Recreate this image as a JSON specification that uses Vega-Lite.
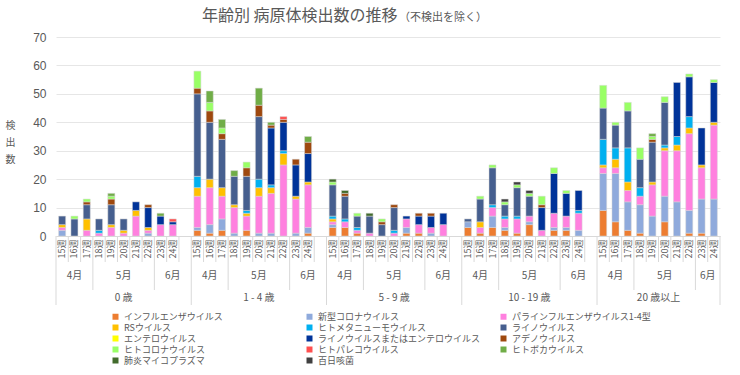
{
  "$schema": "https://vega.github.io/schema/vega-lite/v6.json",
  "background": "white",
  "padding": {"left": 5, "top": 8, "right": 5, "bottom": 5},
  "title": {"text": "年齢別 病原体検出数の推移", "anchor": "start", "frame": "group", "dx": 146, "dy": 12, "offset": 0, "fontSize": 16, "fontWeight": "normal", "color": "#595959", "font": "Noto Sans CJK JP"},
  "datasets": {
    "counts": [
      {"age": "0 歳", "week": "15週", "新型コロナウイルス": 2, "パラインフルエンザウイルス1-4型": 1, "RSウイルス": 1, "ライノウイルス": 3},
      {"age": "0 歳", "week": "16週", "ライノウイルス": 6, "ヒトコロナウイルス": 1},
      {"age": "0 歳", "week": "17週", "パラインフルエンザウイルス1-4型": 2, "RSウイルス": 4, "ライノウイルス": 5, "アデノウイルス": 1, "ヒトコロナウイルス": 1},
      {"age": "0 歳", "week": "18週", "パラインフルエンザウイルス1-4型": 1, "ヒトメタニューモウイルス": 1, "ライノウイルス": 4},
      {"age": "0 歳", "week": "19週", "パラインフルエンザウイルス1-4型": 3, "RSウイルス": 1, "ライノウイルス": 7, "アデノウイルス": 2, "ヒトコロナウイルス": 1, "ヒトボカウイルス": 1},
      {"age": "0 歳", "week": "20週", "パラインフルエンザウイルス1-4型": 1, "RSウイルス": 1, "ライノウイルス": 4},
      {"age": "0 歳", "week": "21週", "パラインフルエンザウイルス1-4型": 7, "RSウイルス": 2, "ライノウイルスまたはエンテロウイルス": 3},
      {"age": "0 歳", "week": "22週", "新型コロナウイルス": 1, "パラインフルエンザウイルス1-4型": 1, "RSウイルス": 1, "ライノウイルスまたはエンテロウイルス": 7, "アデノウイルス": 1},
      {"age": "0 歳", "week": "23週", "パラインフルエンザウイルス1-4型": 4, "ライノウイルスまたはエンテロウイルス": 3, "ヒトボカウイルス": 1},
      {"age": "0 歳", "week": "24週", "パラインフルエンザウイルス1-4型": 4, "ライノウイルスまたはエンテロウイルス": 1, "ヒトパレコウイルス": 1},
      {"age": "1 - 4 歳", "week": "15週", "インフルエンザウイルス": 2, "新型コロナウイルス": 1, "パラインフルエンザウイルス1-4型": 11, "RSウイルス": 3, "ヒトメタニューモウイルス": 4, "ライノウイルス": 29, "アデノウイルス": 2, "ヒトコロナウイルス": 6},
      {"age": "1 - 4 歳", "week": "16週", "インフルエンザウイルス": 1, "新型コロナウイルス": 3, "パラインフルエンザウイルス1-4型": 13, "RSウイルス": 3, "ライノウイルス": 20, "アデノウイルス": 4, "ヒトコロナウイルス": 3, "ヒトボカウイルス": 4},
      {"age": "1 - 4 歳", "week": "17週", "インフルエンザウイルス": 2, "新型コロナウイルス": 4, "パラインフルエンザウイルス1-4型": 8, "RSウイルス": 3, "ライノウイルス": 17, "アデノウイルス": 2, "ヒトコロナウイルス": 2, "ヒトボカウイルス": 3},
      {"age": "1 - 4 歳", "week": "18週", "新型コロナウイルス": 1, "パラインフルエンザウイルス1-4型": 9, "RSウイルス": 1, "ライノウイルス": 10, "ヒトボカウイルス": 2},
      {"age": "1 - 4 歳", "week": "19週", "インフルエンザウイルス": 2, "パラインフルエンザウイルス1-4型": 5, "RSウイルス": 1, "ヒトメタニューモウイルス": 1, "ライノウイルス": 12, "アデノウイルス": 3, "ヒトコロナウイルス": 2},
      {"age": "1 - 4 歳", "week": "20週", "新型コロナウイルス": 1, "パラインフルエンザウイルス1-4型": 13, "RSウイルス": 3, "ヒトメタニューモウイルス": 3, "ライノウイルス": 22, "アデノウイルス": 4, "ヒトボカウイルス": 6},
      {"age": "1 - 4 歳", "week": "21週", "新型コロナウイルス": 1, "パラインフルエンザウイルス1-4型": 14, "RSウイルス": 2, "ヒトメタニューモウイルス": 1, "ライノウイルスまたはエンテロウイルス": 20, "アデノウイルス": 1, "ヒトボカウイルス": 1},
      {"age": "1 - 4 歳", "week": "22週", "パラインフルエンザウイルス1-4型": 25, "RSウイルス": 4, "ヒトメタニューモウイルス": 1, "ライノウイルスまたはエンテロウイルス": 10, "アデノウイルス": 1, "ヒトパレコウイルス": 1},
      {"age": "1 - 4 歳", "week": "23週", "新型コロナウイルス": 1, "パラインフルエンザウイルス1-4型": 12, "RSウイルス": 1, "ライノウイルスまたはエンテロウイルス": 11, "アデノウイルス": 2},
      {"age": "1 - 4 歳", "week": "24週", "インフルエンザウイルス": 1, "新型コロナウイルス": 2, "パラインフルエンザウイルス1-4型": 15, "RSウイルス": 1, "ライノウイルスまたはエンテロウイルス": 10, "アデノウイルス": 4, "ヒトボカウイルス": 2},
      {"age": "5 - 9 歳", "week": "15週", "インフルエンザウイルス": 3, "新型コロナウイルス": 1, "パラインフルエンザウイルス1-4型": 1, "RSウイルス": 1, "ヒトメタニューモウイルス": 1, "ライノウイルス": 11, "ヒトコロナウイルス": 1, "肺炎マイコプラズマ": 1},
      {"age": "5 - 9 歳", "week": "16週", "インフルエンザウイルス": 3, "パラインフルエンザウイルス1-4型": 2, "ヒトメタニューモウイルス": 1, "ライノウイルス": 8, "アデノウイルス": 1, "肺炎マイコプラズマ": 1},
      {"age": "5 - 9 歳", "week": "17週", "インフルエンザウイルス": 1, "パラインフルエンザウイルス1-4型": 1, "ヒトメタニューモウイルス": 1, "ライノウイルス": 4, "ヒトコロナウイルス": 1},
      {"age": "5 - 9 歳", "week": "18週", "パラインフルエンザウイルス1-4型": 1, "ライノウイルス": 6, "肺炎マイコプラズマ": 1},
      {"age": "5 - 9 歳", "week": "19週", "ライノウイルス": 4, "アデノウイルス": 1, "ヒトコロナウイルス": 1},
      {"age": "5 - 9 歳", "week": "20週", "パラインフルエンザウイルス1-4型": 1, "ヒトメタニューモウイルス": 1, "ライノウイルス": 8, "アデノウイルス": 1},
      {"age": "5 - 9 歳", "week": "21週", "インフルエンザウイルス": 1, "新型コロナウイルス": 2, "パラインフルエンザウイルス1-4型": 3, "ライノウイルスまたはエンテロウイルス": 1},
      {"age": "5 - 9 歳", "week": "22週", "インフルエンザウイルス": 1, "パラインフルエンザウイルス1-4型": 3, "ライノウイルスまたはエンテロウイルス": 3, "アデノウイルス": 1},
      {"age": "5 - 9 歳", "week": "23週", "新型コロナウイルス": 1, "パラインフルエンザウイルス1-4型": 2, "ライノウイルスまたはエンテロウイルス": 4, "アデノウイルス": 1},
      {"age": "5 - 9 歳", "week": "24週", "パラインフルエンザウイルス1-4型": 4, "ライノウイルスまたはエンテロウイルス": 4},
      {"age": "10 - 19 歳", "week": "15週", "インフルエンザウイルス": 3, "新型コロナウイルス": 2, "ライノウイルス": 1},
      {"age": "10 - 19 歳", "week": "16週", "インフルエンザウイルス": 1, "パラインフルエンザウイルス1-4型": 2, "RSウイルス": 2, "ライノウイルス": 8, "ヒトコロナウイルス": 1},
      {"age": "10 - 19 歳", "week": "17週", "インフルエンザウイルス": 3, "新型コロナウイルス": 4, "パラインフルエンザウイルス1-4型": 3, "ヒトメタニューモウイルス": 1, "ライノウイルス": 13, "ヒトコロナウイルス": 1},
      {"age": "10 - 19 歳", "week": "18週", "インフルエンザウイルス": 2, "新型コロナウイルス": 1, "パラインフルエンザウイルス1-4型": 3, "ヒトメタニューモウイルス": 1, "ライノウイルス": 4, "ヒトコロナウイルス": 1, "百日咳菌": 1},
      {"age": "10 - 19 歳", "week": "19週", "インフルエンザウイルス": 1, "パラインフルエンザウイルス1-4型": 5, "ヒトメタニューモウイルス": 1, "ライノウイルス": 10, "ヒトコロナウイルス": 1, "百日咳菌": 1},
      {"age": "10 - 19 歳", "week": "20週", "インフルエンザウイルス": 4, "新型コロナウイルス": 1, "パラインフルエンザウイルス1-4型": 2, "ライノウイルス": 7, "ヒトコロナウイルス": 1, "百日咳菌": 1},
      {"age": "10 - 19 歳", "week": "21週", "パラインフルエンザウイルス1-4型": 2, "ライノウイルスまたはエンテロウイルス": 8, "アデノウイルス": 1, "ヒトコロナウイルス": 3},
      {"age": "10 - 19 歳", "week": "22週", "インフルエンザウイルス": 2, "新型コロナウイルス": 1, "パラインフルエンザウイルス1-4型": 5, "ライノウイルスまたはエンテロウイルス": 14, "ヒトコロナウイルス": 2},
      {"age": "10 - 19 歳", "week": "23週", "インフルエンザウイルス": 2, "新型コロナウイルス": 1, "パラインフルエンザウイルス1-4型": 4, "ライノウイルスまたはエンテロウイルス": 8, "ヒトコロナウイルス": 1},
      {"age": "10 - 19 歳", "week": "24週", "新型コロナウイルス": 2, "パラインフルエンザウイルス1-4型": 6, "ヒトメタニューモウイルス": 1, "ライノウイルスまたはエンテロウイルス": 7},
      {"age": "20 歳以上", "week": "15週", "インフルエンザウイルス": 9, "新型コロナウイルス": 13, "パラインフルエンザウイルス1-4型": 2, "RSウイルス": 1, "ヒトメタニューモウイルス": 9, "ライノウイルス": 11, "ヒトコロナウイルス": 8},
      {"age": "20 歳以上", "week": "16週", "インフルエンザウイルス": 5, "新型コロナウイルス": 17, "パラインフルエンザウイルス1-4型": 2, "RSウイルス": 3, "ヒトメタニューモウイルス": 4, "ライノウイルス": 8, "ヒトコロナウイルス": 1},
      {"age": "20 歳以上", "week": "17週", "インフルエンザウイルス": 2, "新型コロナウイルス": 10, "パラインフルエンザウイルス1-4型": 4, "RSウイルス": 3, "ヒトメタニューモウイルス": 12, "ライノウイルス": 13, "ヒトコロナウイルス": 3},
      {"age": "20 歳以上", "week": "18週", "インフルエンザウイルス": 1, "新型コロナウイルス": 10, "パラインフルエンザウイルス1-4型": 3, "ヒトメタニューモウイルス": 3, "ライノウイルス": 10, "ヒトコロナウイルス": 4},
      {"age": "20 歳以上", "week": "19週", "新型コロナウイルス": 7, "パラインフルエンザウイルス1-4型": 11, "RSウイルス": 1, "ライノウイルス": 14, "アデノウイルス": 1, "ヒトコロナウイルス": 1, "ヒトボカウイルス": 1},
      {"age": "20 歳以上", "week": "20週", "インフルエンザウイルス": 5, "新型コロナウイルス": 9, "パラインフルエンザウイルス1-4型": 16, "RSウイルス": 1, "ヒトメタニューモウイルス": 1, "ライノウイルス": 15, "ヒトコロナウイルス": 2},
      {"age": "20 歳以上", "week": "21週", "新型コロナウイルス": 12, "パラインフルエンザウイルス1-4型": 18, "RSウイルス": 2, "ヒトメタニューモウイルス": 3, "ライノウイルスまたはエンテロウイルス": 19},
      {"age": "20 歳以上", "week": "22週", "インフルエンザウイルス": 1, "新型コロナウイルス": 8, "パラインフルエンザウイルス1-4型": 27, "RSウイルス": 2, "ヒトメタニューモウイルス": 4, "ライノウイルスまたはエンテロウイルス": 14, "ヒトコロナウイルス": 1},
      {"age": "20 歳以上", "week": "23週", "インフルエンザウイルス": 1, "新型コロナウイルス": 12, "パラインフルエンザウイルス1-4型": 11, "RSウイルス": 1, "ライノウイルスまたはエンテロウイルス": 13},
      {"age": "20 歳以上", "week": "24週", "新型コロナウイルス": 13, "パラインフルエンザウイルス1-4型": 26, "RSウイルス": 1, "ライノウイルスまたはエンテロウイルス": 14, "ヒトコロナウイルス": 1}
    ],
    "months": [
      {"age": "0 歳", "month": "4月", "first": "15週", "center": "16週"},
      {"age": "0 歳", "month": "5月", "first": "18週", "center": "20週"},
      {"age": "0 歳", "month": "6月", "first": "23週", "center": "24週"},
      {"age": "1 - 4 歳", "month": "4月", "first": "15週", "center": "16週"},
      {"age": "1 - 4 歳", "month": "5月", "first": "18週", "center": "20週"},
      {"age": "1 - 4 歳", "month": "6月", "first": "23週", "center": "24週"},
      {"age": "5 - 9 歳", "month": "4月", "first": "15週", "center": "16週"},
      {"age": "5 - 9 歳", "month": "5月", "first": "18週", "center": "20週"},
      {"age": "5 - 9 歳", "month": "6月", "first": "23週", "center": "24週"},
      {"age": "10 - 19 歳", "month": "4月", "first": "15週", "center": "16週"},
      {"age": "10 - 19 歳", "month": "5月", "first": "18週", "center": "20週"},
      {"age": "10 - 19 歳", "month": "6月", "first": "23週", "center": "24週"},
      {"age": "20 歳以上", "month": "4月", "first": "15週", "center": "16週"},
      {"age": "20 歳以上", "month": "5月", "first": "18週", "center": "20週"},
      {"age": "20 歳以上", "month": "6月", "first": "23週", "center": "24週"}
    ],
    "ages": [
      {"age": "0 歳"},
      {"age": "1 - 4 歳"},
      {"age": "5 - 9 歳"},
      {"age": "10 - 19 歳"},
      {"age": "20 歳以上"}
    ]
  },
  "spacing": 0,
  "bounds": "flush",
  "resolve": {"scale": {"x": "independent"}},
  "vconcat": [
    {
      "width": 664,
      "height": 199,
      "title": {"text": "（不検出を除く）", "anchor": "start", "frame": "group", "dx": 343, "offset": 8, "fontSize": 11, "fontWeight": "normal", "color": "#595959", "font": "Noto Sans CJK JP"},
      "data": {"name": "counts"},
      "transform": [
        {"fold": ["インフルエンザウイルス", "新型コロナウイルス", "パラインフルエンザウイルス1-4型", "RSウイルス", "ヒトメタニューモウイルス", "ライノウイルス", "エンテロウイルス", "ライノウイルスまたはエンテロウイルス", "アデノウイルス", "ヒトコロナウイルス", "ヒトパレコウイルス", "ヒトボカウイルス", "肺炎マイコプラズマ", "百日咳菌"], "as": ["pathogen", "count"]},
        {"filter": "datum.count > 0"},
        {"calculate": "datum.age + '|' + datum.week", "as": "slot"},
        {"calculate": "indexof(['インフルエンザウイルス', '新型コロナウイルス', 'パラインフルエンザウイルス1-4型', 'RSウイルス', 'ヒトメタニューモウイルス', 'ライノウイルス', 'エンテロウイルス', 'ライノウイルスまたはエンテロウイルス', 'アデノウイルス', 'ヒトコロナウイルス', 'ヒトパレコウイルス', 'ヒトボカウイルス', '肺炎マイコプラズマ', '百日咳菌'], datum.pathogen)", "as": "stackOrder"}
      ],
      "mark": {"type": "bar", "stroke": "#D6D6D6", "strokeWidth": 0.5},
      "encoding": {
        "x": {
          "field": "slot", "type": "nominal", "sort": null,
          "scale": {"type": "band", "paddingInner": 0.43, "paddingOuter": 0.215, "domain": ["0 歳|15週", "0 歳|16週", "0 歳|17週", "0 歳|18週", "0 歳|19週", "0 歳|20週", "0 歳|21週", "0 歳|22週", "0 歳|23週", "0 歳|24週", "0 歳|", "1 - 4 歳|15週", "1 - 4 歳|16週", "1 - 4 歳|17週", "1 - 4 歳|18週", "1 - 4 歳|19週", "1 - 4 歳|20週", "1 - 4 歳|21週", "1 - 4 歳|22週", "1 - 4 歳|23週", "1 - 4 歳|24週", "1 - 4 歳|", "5 - 9 歳|15週", "5 - 9 歳|16週", "5 - 9 歳|17週", "5 - 9 歳|18週", "5 - 9 歳|19週", "5 - 9 歳|20週", "5 - 9 歳|21週", "5 - 9 歳|22週", "5 - 9 歳|23週", "5 - 9 歳|24週", "5 - 9 歳|", "10 - 19 歳|15週", "10 - 19 歳|16週", "10 - 19 歳|17週", "10 - 19 歳|18週", "10 - 19 歳|19週", "10 - 19 歳|20週", "10 - 19 歳|21週", "10 - 19 歳|22週", "10 - 19 歳|23週", "10 - 19 歳|24週", "10 - 19 歳|", "20 歳以上|15週", "20 歳以上|16週", "20 歳以上|17週", "20 歳以上|18週", "20 歳以上|19週", "20 歳以上|20週", "20 歳以上|21週", "20 歳以上|22週", "20 歳以上|23週", "20 歳以上|24週"]},
          "axis": {"title": null, "labels": false, "ticks": false, "domain": true, "domainColor": "#D9D9D9", "grid": false, "minExtent": 0, "maxExtent": 0}
        },
        "y": {
          "field": "count", "type": "quantitative", "stack": "zero",
          "scale": {"domain": [0, 70], "nice": false},
          "axis": {"title": ["検", "出", "数"], "titleAngle": 0, "titleAlign": "center", "titleBaseline": "middle", "titleX": -46, "titleY": 88, "titleFontSize": 10, "titleFontWeight": "normal", "titleColor": "#595959", "titleFont": "Noto Sans CJK JP", "titleLineHeight": 17, "values": [0, 10, 20, 30, 40, 50, 60, 70], "domain": false, "ticks": false, "labelPadding": 10, "labelFontSize": 12, "labelFont": "Liberation Sans", "labelColor": "#595959", "gridColor": "#E6E6E6"}
        },
        "color": {
          "field": "pathogen", "type": "nominal",
          "scale": {
            "domain": ["インフルエンザウイルス", "新型コロナウイルス", "パラインフルエンザウイルス1-4型", "RSウイルス", "ヒトメタニューモウイルス", "ライノウイルス", "エンテロウイルス", "ライノウイルスまたはエンテロウイルス", "アデノウイルス", "ヒトコロナウイルス", "ヒトパレコウイルス", "ヒトボカウイルス", "肺炎マイコプラズマ", "百日咳菌"],
            "range": ["#ED7D31", "#8FAADC", "#FF80DF", "#FFC000", "#00B0F0", "#465F8F", "#FFFF00", "#003399", "#9E480E", "#99FF66", "#FF5050", "#70AD47", "#426B2C", "#404040"]
          },
          "legend": {"orient": "none", "legendX": 55, "legendY": 275, "direction": "horizontal", "columns": 3, "title": null, "symbolType": "square", "symbolSize": 36, "symbolStrokeWidth": 0, "labelFontSize": 9, "labelFont": "Noto Sans CJK JP", "labelColor": "#595959", "columnPadding": 18, "rowPadding": 1, "gridAlign": "all", "labelLimit": 400, "labelOffset": 4}
        },
        "order": {"field": "stackOrder", "type": "quantitative", "sort": "ascending"}
      }
    },
    {
      "width": 664,
      "height": 26,
      "data": {"name": "counts"},
      "transform": [{"calculate": "datum.age + '|' + datum.week", "as": "slot"}],
      "layer": [
        {
          "mark": {"type": "rule", "color": "#D9D9D9", "strokeWidth": 1},
          "encoding": {"x": {"field": "slot", "type": "nominal", "bandPosition": 0, "sort": null, "axis": null}}
        },
        {
          "transform": [{"filter": "datum.week === '24週'"}],
          "mark": {"type": "rule", "color": "#D9D9D9", "strokeWidth": 1},
          "encoding": {"x": {"field": "slot", "type": "nominal", "bandPosition": 1, "sort": null, "axis": null}}
        },
        {
          "mark": {"type": "text", "angle": 270, "align": "center", "baseline": "middle", "fontSize": 9, "font": "Noto Sans CJK JP", "color": "#595959"},
          "encoding": {"x": {"field": "slot", "type": "nominal", "sort": null, "axis": null}, "text": {"field": "week"}}
        }
      ],
      "encoding": {
        "x": {"field": "slot", "type": "nominal", "sort": null, "axis": null,
          "scale": {"type": "band", "paddingInner": 0, "paddingOuter": 0, "domain": ["0 歳|15週", "0 歳|16週", "0 歳|17週", "0 歳|18週", "0 歳|19週", "0 歳|20週", "0 歳|21週", "0 歳|22週", "0 歳|23週", "0 歳|24週", "0 歳|", "1 - 4 歳|15週", "1 - 4 歳|16週", "1 - 4 歳|17週", "1 - 4 歳|18週", "1 - 4 歳|19週", "1 - 4 歳|20週", "1 - 4 歳|21週", "1 - 4 歳|22週", "1 - 4 歳|23週", "1 - 4 歳|24週", "1 - 4 歳|", "5 - 9 歳|15週", "5 - 9 歳|16週", "5 - 9 歳|17週", "5 - 9 歳|18週", "5 - 9 歳|19週", "5 - 9 歳|20週", "5 - 9 歳|21週", "5 - 9 歳|22週", "5 - 9 歳|23週", "5 - 9 歳|24週", "5 - 9 歳|", "10 - 19 歳|15週", "10 - 19 歳|16週", "10 - 19 歳|17週", "10 - 19 歳|18週", "10 - 19 歳|19週", "10 - 19 歳|20週", "10 - 19 歳|21週", "10 - 19 歳|22週", "10 - 19 歳|23週", "10 - 19 歳|24週", "10 - 19 歳|", "20 歳以上|15週", "20 歳以上|16週", "20 歳以上|17週", "20 歳以上|18週", "20 歳以上|19週", "20 歳以上|20週", "20 歳以上|21週", "20 歳以上|22週", "20 歳以上|23週", "20 歳以上|24週"]}}
      }
    },
    {
      "width": 664,
      "height": 28,
      "layer": [
        {
          "data": {"name": "months"},
          "transform": [{"calculate": "datum.age + '|' + datum.first", "as": "slot"}],
          "mark": {"type": "rule", "color": "#D9D9D9", "strokeWidth": 1},
          "encoding": {"x": {"field": "slot", "type": "nominal", "bandPosition": 0, "sort": null, "axis": null}}
        },
        {
          "data": {"name": "ages"},
          "transform": [{"filter": "datum.age === '20 歳以上'"}, {"calculate": "datum.age + '|24週'", "as": "slot"}],
          "mark": {"type": "rule", "color": "#D9D9D9", "strokeWidth": 1},
          "encoding": {"x": {"field": "slot", "type": "nominal", "bandPosition": 1, "sort": null, "axis": null}}
        },
        {
          "data": {"name": "months"},
          "transform": [{"filter": "!(datum.age === '20 歳以上' && datum.month === '6月')"}, {"calculate": "datum.age + '|' + datum.center", "as": "slot"}],
          "mark": {"type": "text", "align": "center", "baseline": "middle", "fontSize": 10, "font": "Noto Sans CJK JP", "color": "#595959"},
          "encoding": {"x": {"field": "slot", "type": "nominal", "sort": null, "axis": null}, "text": {"field": "month"}}
        },
        {
          "data": {"name": "months"},
          "transform": [{"filter": "datum.age === '20 歳以上' && datum.month === '6月'"}, {"calculate": "datum.age + '|' + datum.center", "as": "slot"}],
          "mark": {"type": "text", "align": "center", "baseline": "middle", "fontSize": 10, "font": "Noto Sans CJK JP", "color": "#595959"},
          "encoding": {"x": {"field": "slot", "type": "nominal", "bandPosition": 0, "sort": null, "axis": null}, "text": {"field": "month"}}
        }
      ],
      "encoding": {
        "x": {"field": "slot", "type": "nominal", "sort": null, "axis": null,
          "scale": {"type": "band", "paddingInner": 0, "paddingOuter": 0, "domain": ["0 歳|15週", "0 歳|16週", "0 歳|17週", "0 歳|18週", "0 歳|19週", "0 歳|20週", "0 歳|21週", "0 歳|22週", "0 歳|23週", "0 歳|24週", "0 歳|", "1 - 4 歳|15週", "1 - 4 歳|16週", "1 - 4 歳|17週", "1 - 4 歳|18週", "1 - 4 歳|19週", "1 - 4 歳|20週", "1 - 4 歳|21週", "1 - 4 歳|22週", "1 - 4 歳|23週", "1 - 4 歳|24週", "1 - 4 歳|", "5 - 9 歳|15週", "5 - 9 歳|16週", "5 - 9 歳|17週", "5 - 9 歳|18週", "5 - 9 歳|19週", "5 - 9 歳|20週", "5 - 9 歳|21週", "5 - 9 歳|22週", "5 - 9 歳|23週", "5 - 9 歳|24週", "5 - 9 歳|", "10 - 19 歳|15週", "10 - 19 歳|16週", "10 - 19 歳|17週", "10 - 19 歳|18週", "10 - 19 歳|19週", "10 - 19 歳|20週", "10 - 19 歳|21週", "10 - 19 歳|22週", "10 - 19 歳|23週", "10 - 19 歳|24週", "10 - 19 歳|", "20 歳以上|15週", "20 歳以上|16週", "20 歳以上|17週", "20 歳以上|18週", "20 歳以上|19週", "20 歳以上|20週", "20 歳以上|21週", "20 歳以上|22週", "20 歳以上|23週", "20 歳以上|24週"]}}
      }
    },
    {
      "width": 664,
      "height": 15,
      "data": {"name": "ages"},
      "layer": [
        {
          "transform": [{"calculate": "datum.age + '|15週'", "as": "slot"}],
          "mark": {"type": "rule", "color": "#D9D9D9", "strokeWidth": 1},
          "encoding": {"x": {"field": "slot", "type": "nominal", "bandPosition": 0, "sort": null, "axis": null}}
        },
        {
          "transform": [{"filter": "datum.age === '20 歳以上'"}, {"calculate": "datum.age + '|24週'", "as": "slot"}],
          "mark": {"type": "rule", "color": "#D9D9D9", "strokeWidth": 1},
          "encoding": {"x": {"field": "slot", "type": "nominal", "bandPosition": 1, "sort": null, "axis": null}}
        },
        {
          "transform": [{"filter": "datum.age !== '20 歳以上'"}, {"calculate": "datum.age + '|20週'", "as": "slot"}],
          "mark": {"type": "text", "align": "center", "baseline": "middle", "fontSize": 10, "font": "Noto Sans CJK JP", "color": "#595959"},
          "encoding": {"x": {"field": "slot", "type": "nominal", "sort": null, "axis": null}, "text": {"field": "age"}}
        },
        {
          "transform": [{"filter": "datum.age === '20 歳以上'"}, {"calculate": "datum.age + '|20週'", "as": "slot"}],
          "mark": {"type": "text", "align": "center", "baseline": "middle", "fontSize": 10, "font": "Noto Sans CJK JP", "color": "#595959"},
          "encoding": {"x": {"field": "slot", "type": "nominal", "bandPosition": 0, "sort": null, "axis": null}, "text": {"field": "age"}}
        }
      ],
      "encoding": {
        "x": {"field": "slot", "type": "nominal", "sort": null, "axis": null,
          "scale": {"type": "band", "paddingInner": 0, "paddingOuter": 0, "domain": ["0 歳|15週", "0 歳|16週", "0 歳|17週", "0 歳|18週", "0 歳|19週", "0 歳|20週", "0 歳|21週", "0 歳|22週", "0 歳|23週", "0 歳|24週", "0 歳|", "1 - 4 歳|15週", "1 - 4 歳|16週", "1 - 4 歳|17週", "1 - 4 歳|18週", "1 - 4 歳|19週", "1 - 4 歳|20週", "1 - 4 歳|21週", "1 - 4 歳|22週", "1 - 4 歳|23週", "1 - 4 歳|24週", "1 - 4 歳|", "5 - 9 歳|15週", "5 - 9 歳|16週", "5 - 9 歳|17週", "5 - 9 歳|18週", "5 - 9 歳|19週", "5 - 9 歳|20週", "5 - 9 歳|21週", "5 - 9 歳|22週", "5 - 9 歳|23週", "5 - 9 歳|24週", "5 - 9 歳|", "10 - 19 歳|15週", "10 - 19 歳|16週", "10 - 19 歳|17週", "10 - 19 歳|18週", "10 - 19 歳|19週", "10 - 19 歳|20週", "10 - 19 歳|21週", "10 - 19 歳|22週", "10 - 19 歳|23週", "10 - 19 歳|24週", "10 - 19 歳|", "20 歳以上|15週", "20 歳以上|16週", "20 歳以上|17週", "20 歳以上|18週", "20 歳以上|19週", "20 歳以上|20週", "20 歳以上|21週", "20 歳以上|22週", "20 歳以上|23週", "20 歳以上|24週"]}}
      }
    }
  ],
  "config": {
    "view": {"stroke": null},
    "font": "Noto Sans CJK JP"
  }
}
